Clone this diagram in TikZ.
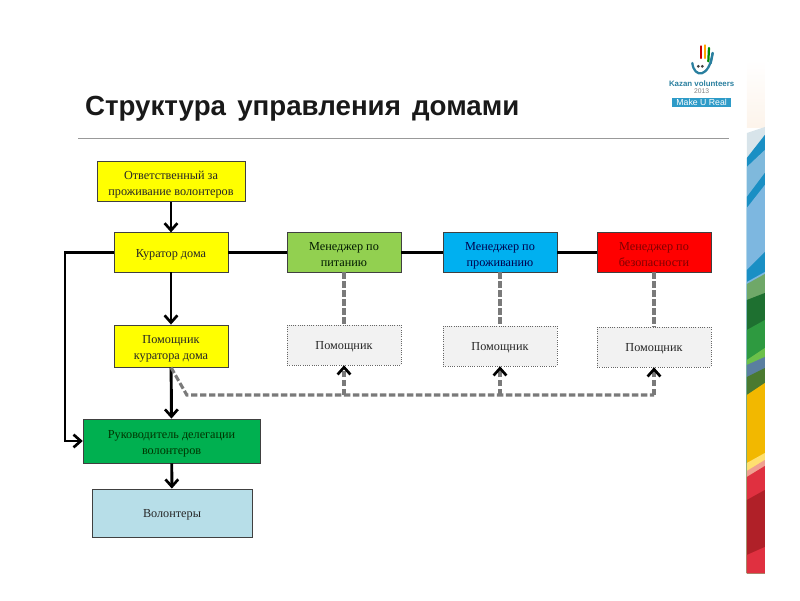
\documentclass[tikz,border=0pt]{standalone}
\usepackage{fontspec}
\setmainfont{Liberation Serif}
\setsansfont{Liberation Sans}
\usepackage{xcolor}
\usetikzlibrary{arrows.meta, positioning}
\definecolor{cYEL}{HTML}{FFFF00}
\definecolor{cLIME}{HTML}{92D050}
\definecolor{cSKY}{HTML}{00B0F0}
\definecolor{cRED}{HTML}{FF0000}
\definecolor{cGRN}{HTML}{00B050}
\definecolor{cPALE}{HTML}{B7DEE8}
\definecolor{cHELP}{HTML}{F2F2F2}
\definecolor{cDASH}{HTML}{7A7A7A}
\definecolor{cTEAL}{HTML}{2A7F9F}
\definecolor{cSLOGAN}{HTML}{2E9BC8}

\begin{document}
\begin{tikzpicture}[
  font=\fontsize{8.7}{11.4}\selectfont,
  box/.style={draw=black!75, semithick, minimum width=2.85cm, minimum height=0.98cm, align=center, inner sep=1pt, text=black!85, text height=9pt, text depth=2pt},
  twoline/.style={text height=21.6pt, text depth=2pt},
  helper/.style={box, draw=black!60, densely dotted, thin, fill=cHELP, minimum height=1cm},
  arr/.style={-{Straight Barb[length=1.8mm,width=3.2mm,line width=1.9pt]}, line width=2.1pt, draw=black},
  bar/.style={line width=2.1pt, draw=black},
  dsh/.style={line width=2.2pt, draw=cDASH, dash pattern=on 4.6pt off 1.8pt},
  dsharr/.style={dsh, -{Straight Barb[length=1.8mm,width=3.2mm,line width=1.9pt,color=black]}}
]
\useasboundingbox (0,0) rectangle (20,15);

% side stripe
\fill[top color=white, bottom color=black!12!orange!8] (18.67,13.5) rectangle (19.12,11.8);
\foreach \col/\yl/\yr in {
  D8E4EA/133/127, 1A8FC4/158/135, 7FB9DC/167/150, 1A8FC4/197/173, 7DB7E0/208/185,
  1A8FC4/270/252, 7DB7E0/282/272, 6FA868/284/274, 1E7030/300/293, 2E9A40/330/320,
  6CC04A/360/348, 5A7FA0/365/357, 4A7A30/377/368, F2B800/395/383, FFE070/463/453,
  F0A090/471/460, E03040/477/466, B02028/500/490, E03040/555/547}
{
  \definecolor{cBAND}{HTML}{\col}
  \fill[cBAND] (18.67,{15-\yl/40}) -- (19.12,{15-\yr/40}) -- (19.12,0.675) -- (18.67,0.675) -- cycle;
}

% logo
\begin{scope}[shift={(16,14.25)}, x=0.00833cm, y=-0.00833cm]
  \draw[cTEAL, line width=1.6pt, line cap=round] (157,99) .. controls (162,145) and (208,145) .. (218,69);
  \draw[cTEAL, line width=1pt, line cap=round] (168,124) .. controls (178,133) and (192,132) .. (198,120);
  \draw[red!80!black, line width=1.6pt, line cap=round] (182,49) -- (182,84);
  \draw[orange!70!yellow, line width=1.6pt, line cap=round] (195,46) -- (195,84);
  \draw[green!55!black, line width=1.6pt, line cap=round] (207,54) -- (205,94);
  \draw[cTEAL, line width=1.6pt, line cap=round] (218,69) -- (212,100);
  \fill[black!75] (175,109) circle (1.1pt) (187,109) circle (1.1pt);
  \node[text=cTEAL, font=\sffamily\bfseries\fontsize{5.6}{7}\selectfont, inner sep=0pt] (kazan) at (185,161) {Kazan volunteers};
  \node[text=black!50, font=\sffamily\fontsize{4.8}{5}\selectfont, inner sep=0pt] (year) at (185,184) {2013};
  \node[fill=cSLOGAN, text=white, font=\sffamily\fontsize{6.2}{7}\selectfont, minimum width=1.48cm, minimum height=0.23cm, inner sep=0pt] (slogan) at (185,217) {Make U Real};
\end{scope}

\node[font=\sffamily\bfseries\fontsize{19.7}{22}\selectfont, text=black!90, anchor=west, inner sep=0pt] (title) at (2.12,12.28) {Структура\hspace{2.5pt} управления\hspace{2.5pt} домами};
\coordinate (rulea) at (1.95,11.53);
\coordinate (ruleb) at (18.22,11.53);
\draw[black!40, thick] (rulea) -- (ruleb);

\node[box, twoline, fill=cYEL, minimum width=3.7cm, minimum height=1cm] (resp) at (4.275,10.46) {Ответственный за\\проживание волонтеров};
\node[box, fill=cYEL] (cur) at (4.275,8.69) {Куратор дома};
\node[box, twoline, fill=cLIME, text=black!90!green] (mfood) at (8.6,8.69) {Менеджер по\\питанию};
\node[box, twoline, fill=cSKY, text=blue!30!black] (mlive) at (12.5,8.69) {Менеджер по\\проживанию};
\node[box, twoline, fill=cRED, text=red!50!black] (msafe) at (16.35,8.69) {Менеджер по\\безопасности};

\node[box, twoline, fill=cYEL, minimum height=1.05cm] (hcur) at (4.275,6.35) {Помощник\\куратора дома};
\node[helper] (hfood) at (8.6,6.375) {Помощник};
\node[helper] (hlive) at (12.5,6.35) {Помощник};
\node[helper] (hsafe) at (16.35,6.325) {Помощник};

\node[box, twoline, fill=cGRN, minimum width=4.42cm, minimum height=1.1cm, text=green!20!black] (head) at (4.29,3.975) {Руководитель делегации\\волонтеров};
\node[box, fill=cPALE, minimum width=4cm, minimum height=1.2cm] (vol) at (4.3,2.175) {Волонтеры};

\draw[arr] (resp) -- (cur);
\draw[arr] (cur) -- (hcur);
\draw[arr] (hcur) -- (head);
\draw[arr] (head) -- (vol);

\coordinate (turn) at (1.625,3.975);
\draw[arr] (cur.west) -| (turn) -- (head.west);

\draw[bar] (cur) -- (mfood);
\draw[bar] (mfood) -- (mlive);
\draw[bar] (mlive) -- (msafe);

\draw[dsh] (mfood) -- (hfood);
\draw[dsh] (mlive) -- (hlive);
\draw[dsh] (msafe) -- (hsafe);

\coordinate (bend) at (4.67,5.125);
\draw[dsh] (hcur.south) -- (bend) -- (hsafe.south |- bend);
\draw[dsharr] (hfood.south |- bend) -- (hfood.south);
\draw[dsharr] (hlive.south |- bend) -- (hlive.south);
\draw[dsharr] (hsafe.south |- bend) -- (hsafe.south);
\end{tikzpicture}
\end{document}
